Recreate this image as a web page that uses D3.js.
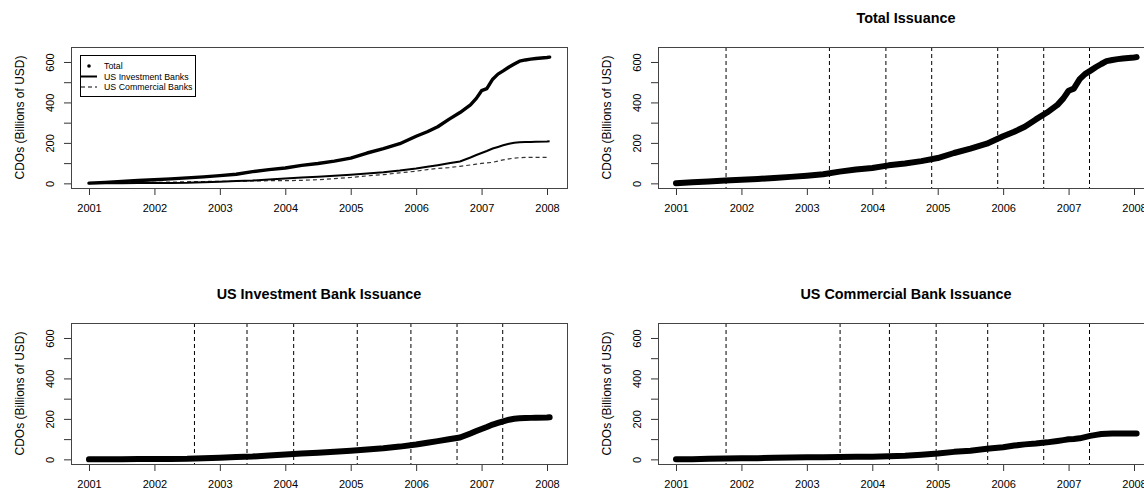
<!DOCTYPE html>
<html>
<head>
<meta charset="utf-8">
<script src="https://cdn.jsdelivr.net/npm/d3@7"></script>
<style>
  html, body { margin: 0; padding: 0; background: #fff; }
  svg { display: block; font-family: "Liberation Sans", Arial, sans-serif; }
</style>
</head>
<body>
<svg id="chart" width="1144" height="492"></svg>
<script>
// Cumulative CDO issuance, billions of USD, sampled at decimal-year dates
const dates = [
  2001.00, 2001.25, 2001.50, 2001.75, 2002.00, 2002.25, 2002.50, 2002.75,
  2003.00, 2003.25, 2003.50, 2003.75, 2004.00, 2004.25, 2004.50, 2004.75,
  2005.00, 2005.25, 2005.50, 2005.75, 2006.00, 2006.17, 2006.33, 2006.50,
  2006.67, 2006.83, 2006.92, 2007.00, 2007.08, 2007.17, 2007.25, 2007.33,
  2007.42, 2007.50, 2007.58, 2007.67, 2007.75, 2007.83, 2008.00, 2008.04
];
const totalIssuance = [
  1, 5, 9, 14, 18, 22, 27, 32,
  38, 45, 58, 68, 76, 89, 98, 110,
  125, 150, 172, 196, 233, 255, 280, 316,
  350, 388, 420, 458, 468, 515, 540, 556,
  575, 590, 604, 610, 614, 617, 622, 624
];
const investmentBanks = [
  0, 1, 1, 2, 2, 2, 3, 6,
  8, 11, 14, 19, 24, 29, 33, 38,
  43, 49, 55, 63, 73, 82, 90, 99,
  108, 128, 140, 150, 160, 172, 180, 188,
  196, 201, 203, 204, 205, 206, 207, 208
];
const commercialBanks = [
  0, 0, 3, 4, 5, 6, 8, 9,
  10, 10, 12, 13, 13, 15, 18, 23,
  29, 37, 43, 52, 60, 68, 74, 78,
  84, 91, 95, 99, 101, 104, 110, 116,
  121, 125, 127, 128, 128, 128, 128, 128
];

// Estimated structural break dates for each series
const totalBreaks = [2001.765, 2003.345, 2004.208, 2004.908, 2005.917, 2006.62, 2007.32];
const investmentBreaks = [2002.612, 2003.415, 2004.128, 2005.10, 2005.92, 2006.625, 2007.323];
const commercialBreaks = [2001.765, 2003.508, 2004.262, 2004.976, 2005.764, 2006.62, 2007.32];

const yearTicks = [2001, 2002, 2003, 2004, 2005, 2006, 2007, 2008];
const valueTicks = [0, 100, 200, 300, 400, 500, 600];
const valueLabels = [0, 200, 400, 600];

const yLabel = "CDOs (Billions of USD)";
const legendLabels = ["Total", "US Investment Banks", "US Commercial Banks"];

const svg = d3.select("#chart");

const panelW = 496, panelH = 141;
const panels = [
  { left: 71,  top: 47,  title: null },
  { left: 658, top: 47,  title: "Total Issuance", values: totalIssuance, breaks: totalBreaks },
  { left: 71,  top: 323, title: "US Investment Bank Issuance", values: investmentBanks, breaks: investmentBreaks },
  { left: 658, top: 323, title: "US Commercial Bank Issuance", values: commercialBanks, breaks: commercialBreaks }
];

function drawFrame(p) {
  const g = svg.append("g").attr("transform", `translate(${p.left},${p.top})`);
  const x = d3.scaleLinear().domain([2000.725, 2008.3056]).range([0, panelW]);
  const y = d3.scaleLinear().domain([-23, 674]).range([panelH, 0]);

  // x axis
  const xa = g.append("g").attr("transform", `translate(0,${panelH})`)
    .call(d3.axisBottom(x).tickValues(yearTicks).tickFormat(d3.format("d")).tickSize(7).tickPadding(9));
  xa.select(".domain").remove();
  xa.selectAll("line").attr("stroke", "#333");
  xa.selectAll("text").attr("font-size", 11).attr("fill", "#000");

  // y axis with rotated labels
  const ya = g.append("g")
    .call(d3.axisLeft(y).tickValues(valueTicks).tickSize(7)
      .tickFormat(d => valueLabels.includes(d) ? d : ""));
  ya.select(".domain").remove();
  ya.selectAll("line").attr("stroke", "#333");
  ya.selectAll("text")
    .attr("font-size", 11).attr("fill", "#000")
    .attr("text-anchor", "middle").attr("dy", null)
    .attr("x", null)
    .attr("transform", "translate(-17,0) rotate(-90)");

  // y axis title
  g.append("text")
    .attr("transform", `translate(-47,${panelH / 2}) rotate(-90)`)
    .attr("text-anchor", "middle")
    .attr("font-size", 12)
    .attr("fill", "#000")
    .text(yLabel);

  if (p.title) {
    g.append("text")
      .attr("x", panelW / 2).attr("y", -24)
      .attr("text-anchor", "middle")
      .attr("font-size", 14.4).attr("font-weight", "bold")
      .attr("fill", "#000")
      .text(p.title);
  }
  return { g, x, y };
}

function drawBox(g) {
  g.append("rect")
    .attr("x", 0.5).attr("y", 0.5)
    .attr("width", panelW).attr("height", panelH)
    .attr("fill", "none").attr("stroke", "#444").attr("stroke-width", 1);
}

panels.forEach((p, i) => {
  const { g, x, y } = drawFrame(p);
  const line = vals => d3.line()
    .x((d, k) => x(dates[k]))
    .y(d => y(d))(vals);

  if (i === 0) {
    // combined panel
    g.append("path").attr("d", line(commercialBanks))
      .attr("fill", "none").attr("stroke", "#333").attr("stroke-width", 1.2)
      .attr("stroke-dasharray", "4,3");
    g.append("path").attr("d", line(investmentBanks))
      .attr("fill", "none").attr("stroke", "#000").attr("stroke-width", 2);
    g.append("path").attr("d", line(totalIssuance))
      .attr("fill", "none").attr("stroke", "#000").attr("stroke-width", 3.4)
      .attr("stroke-linejoin", "round").attr("stroke-linecap", "round");

    // legend
    const lg = g.append("g").attr("transform", "translate(9,8)");
    lg.append("rect").attr("x", 0.5).attr("y", 0.5).attr("width", 115).attr("height", 41)
      .attr("fill", "#fff").attr("stroke", "#000").attr("stroke-width", 1);
    const rowY = [11, 21.5, 32];
    lg.append("circle").attr("cx", 9).attr("cy", rowY[0]).attr("r", 1.8).attr("fill", "#000");
    lg.append("line").attr("x1", 1).attr("x2", 17).attr("y1", rowY[1]).attr("y2", rowY[1])
      .attr("stroke", "#000").attr("stroke-width", 2);
    lg.append("line").attr("x1", 1).attr("x2", 17).attr("y1", rowY[2]).attr("y2", rowY[2])
      .attr("stroke", "#000").attr("stroke-width", 1).attr("stroke-dasharray", "4,3");
    legendLabels.forEach((t, k) => {
      lg.append("text").attr("x", 24).attr("y", rowY[k]).attr("dy", "0.35em")
        .attr("font-size", 8.8).attr("fill", "#000").text(t);
    });
  } else {
    g.selectAll("line.brk").data(p.breaks).enter().append("line")
      .attr("class", "brk")
      .attr("x1", d => x(d)).attr("x2", d => x(d))
      .attr("y1", 0).attr("y2", panelH)
      .attr("stroke", "#000").attr("stroke-width", 1).attr("stroke-dasharray", "4,3");
    g.append("path").attr("d", line(p.values))
      .attr("fill", "none").attr("stroke", "#000").attr("stroke-width", 6)
      .attr("stroke-linejoin", "round").attr("stroke-linecap", "round");
  }
  drawBox(g);
});
</script>
</body>
</html>
